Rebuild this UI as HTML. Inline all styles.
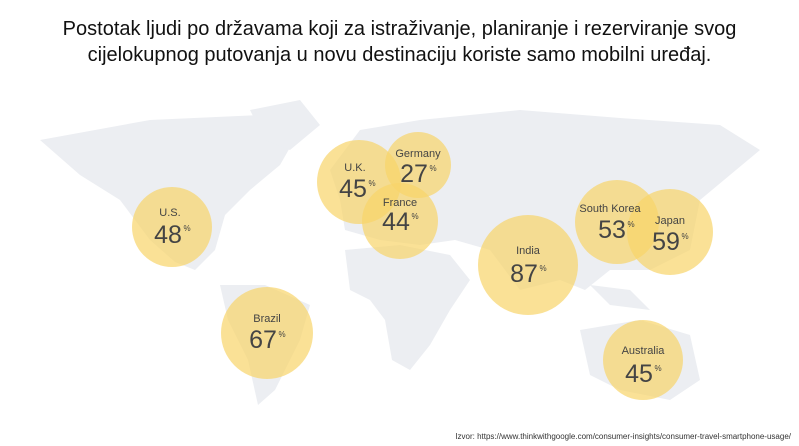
<!DOCTYPE html>
<html><head><meta charset="utf-8"><style>
html,body{margin:0;padding:0;background:#fff;}
body{width:799px;height:446px;position:relative;overflow:hidden;font-family:"Liberation Sans",sans-serif;}
.t{position:absolute;left:0;width:799px;top:16px;text-align:center;font-size:20px;line-height:26px;color:#111;}
.src{position:absolute;right:8px;top:432px;font-size:8px;color:#333;}
</style></head><body>
<div class="t">Postotak ljudi po državama koji za istraživanje, planiranje i rezerviranje svog<br>cijelokupnog putovanja u novu destinaciju koriste samo mobilni uređaj.</div>
<svg width="799" height="446" style="position:absolute;left:0;top:0">
<g fill="#eceef2">
<path d="M40 140 L150 120 L260 115 L300 130 L280 165 L250 190 L225 215 L215 250 L195 270 L175 262 L150 240 L120 200 L80 175 Z"/>
<path d="M250 110 L300 100 L320 125 L290 150 L265 140 Z"/>
<path d="M220 285 L265 285 L310 305 L300 340 L275 390 L258 405 L248 360 L228 320 Z"/>
<path d="M330 170 L360 130 L420 120 L520 110 L620 118 L720 125 L760 150 L730 175 L700 200 L690 250 L650 270 L610 270 L585 290 L560 280 L520 290 L490 250 L455 240 L420 245 L380 240 L345 230 L340 200 Z"/>
<path d="M345 250 L400 245 L450 255 L470 280 L450 310 L430 345 L410 370 L392 360 L385 320 L370 300 L350 290 Z"/>
<path d="M580 330 L640 320 L690 335 L700 380 L670 400 L620 390 L590 375 Z"/>
<path d="M590 285 L630 290 L650 310 L610 305 Z"/>
</g>
<g fill="#f8d46a" fill-opacity="0.7">
<circle cx="172" cy="227" r="40"/>
<circle cx="359" cy="182" r="42"/>
<circle cx="418" cy="165" r="33"/>
<circle cx="400" cy="221" r="38"/>
<circle cx="267" cy="333" r="46"/>
<circle cx="528" cy="265" r="50"/>
<circle cx="617" cy="222" r="42"/>
<circle cx="670" cy="232" r="43"/>
<circle cx="643" cy="360" r="40"/>
</g>
<g fill="#444" text-anchor="middle" font-family="Liberation Sans, sans-serif">
<g font-size="11"><text x="170" y="216">U.S.</text><text x="355" y="171">U.K.</text><text x="418" y="157">Germany</text><text x="400" y="206">France</text><text x="267" y="322">Brazil</text><text x="528" y="254">India</text><text x="610" y="212">South Korea</text><text x="670" y="224">Japan</text><text x="643" y="354">Australia</text></g>
<g font-size="25"><text x="168" y="243">48</text><text x="353" y="197">45</text><text x="414" y="182">27</text><text x="396" y="230">44</text><text x="263" y="348">67</text><text x="524" y="282">87</text><text x="612" y="238">53</text><text x="666" y="250">59</text><text x="639" y="382">45</text></g>
<g font-size="8"><text x="187" y="231">%</text><text x="372" y="186">%</text><text x="433" y="171">%</text><text x="415" y="219">%</text><text x="282" y="337">%</text><text x="543" y="271">%</text><text x="631" y="227">%</text><text x="685" y="239">%</text><text x="658" y="371">%</text></g>
</g>
</svg>
<div class="src">Izvor: https://www.thinkwithgoogle.com/consumer-insights/consumer-travel-smartphone-usage/</div>
</body></html>
